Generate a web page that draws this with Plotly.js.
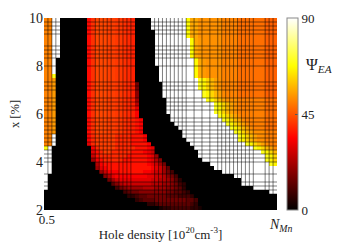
<!DOCTYPE html>
<html><head><meta charset="utf-8"><script src="https://cdn.plot.ly/plotly-3.0.1.min.js"></script>
<style>html,body{margin:0;padding:0;background:#fff}</style></head>
<body><div id="chart" style="width:338px;height:242px"></div>
<script>
// letters a..z stand for 0,3,6..75; W for 90
const NCOLS = 59, NROWS = 48;
const leftStrip = [
 "rrWW","rrWW","rrWW","rrWW","rrWW","rrWW","rrWW","rrWW","rrWW","rrWW",
 "rrW","rrW","rrW","rrW","rrx","rrs","rrs","rrs","rrs","rrs","rrs","rrs","rrs","rrs","rrs","rrs","rrs","rrs","rrs",
 "rrW","rrW","rrW","xW","WW","WW","WW","WW","WW","WW","W","W","W","W","","","","",""];
const redStart = [11,11,11,11,11,11,11,11,11,11,11,11,11,11,11,11,11,11,11,11,11,11,11,11,11,11,11,11,11,
 11,11,11,12,12,12,12,13,13,14,15,16,17,18,20,21,23,26,29];
const whiteStart = [27,27,27,28,28,28,28,28,28,28,28,28,29,29,29,29,30,30,30,30,31,31,31,31,32,32,33,34,35,35,36,37,38,39,39,40,42,43,45,48,50,50,53,57,59,59,59,59];
const goldStart = [36,36,36,36,36,37,37,37,37,37,38,38,38,38,38,39,39,39,40,40,41,43,43,43,44,45,46,47,48,49,49,51,53,55,56,56,57,59,59,59,59,59,59,59,59,59,59,59];
const redTop = [35,40,43,43,43,42,42,41,41,40,39,38];
const redEdge = {16:[15],17:[15],18:[18],19:[18],20:[21],21:[24],22:[30],23:[33],24:[33],25:[36,33],26:[36,33],27:[36,33],28:[36,33]};
const redLower = {
 29:"lnooooonnnnmmml",30:"lnooooonnnnmmml",31:"knooooonnnnmmmml",32:"lnoooonnnnnmmmlk",33:"kmnoonnnnnmmmlkj",
 34:"jmnnnnnnnmmmmmlkh",35:"hlmnnnnnmmmmmmlkig",36:"ilmmmmmmmmmmmlkjhf",37:"hklmmmmmmmmmmmlkjhe",38:"hjlllmmmmmmllkjjhfd",
 39:"gikllllllllkkjjigfd",40:"fhjkkkkkkkkjjiihgec",41:"egijjjjjjjiiihhgfdc",42:"dfghhhhiiihhhggfec",43:"deffgggggggffeedc",
 44:"ccdeefffffeeedddc",45:"cdeeeffffffffeed",46:"ccdeeeeeeeedc",47:"bccdddddccb"};
// gold region, columns 36..58, upper rows
const goldByCol = [56,56,56,53,53,53,53,53,53,51,51,51,51,48.5,48.5,48.5,48.5,48.5,48.5,48.5,46.5,46.5,46.5];
const goldRowLift = [0,0,0,0,0,0,0,0,0,0,0,0,0,0,0,0,0,0,0,0,2,2,2,2,2,2,2,2,4,4,4,4,4,4,4,4,4,4,4,4,4,4,4,4,4,4,4,4];
const goldEdgeTop = [67,56,54], goldEdgeLow = [70,66,62,58,55,52];
const gridCols = [1,2,3,13,14,15,16,17,19,20,21,22,28,29,30,31,32,33,34,35,36,38,40,42,44,45,46,47,48,49,50,51,52,53,56,57,58];
const gridRows = [1,2,3,4,7,8,9,10,12,16,17,18,20,21,22,23,25,26,27,28,29,30,31,32,33,34,35,36,39,41,42,43,44];
const zTicks = [0,45,90];
const yTicks = [2,4,6,8,10];

const val = ch => ch === "W" ? 90 : (ch.charCodeAt(0)-97)*3;
const z = [], yc = [], xc = [];
for (let c=0;c<NCOLS;c++) xc.push(c+0.5);
for (let r=0;r<NROWS;r++){
  const row = new Array(NCOLS).fill(0);
  [...leftStrip[r]].forEach((ch,i)=>row[i]=val(ch));
  if (redLower[r]) [...redLower[r]].forEach((ch,i)=>row[redStart[r]+i]=val(ch));
  else {
    redTop.forEach((v,i)=>row[11+i]=v);
    (redEdge[r]||[]).forEach((v,i)=>row[23+i]=v);
  }
  for (let c=whiteStart[r];c<goldStart[r];c++) row[c]=90;
  const edge = r<15 ? goldEdgeTop : goldEdgeLow;
  for (let c=goldStart[r];c<NCOLS;c++){
    const off=c-goldStart[r];
    const base=goldByCol[c-36]+goldRowLift[r];
    row[c]= off<edge.length ? Math.max(edge[off],base) : base;
  }
  z.push(row);
  yc.push(10-(r+0.5)*8/NROWS);
}
const gx=[],gy=[];
gridCols.forEach(c=>{gx.push(c,c,null);gy.push(2,10,null);});
gridRows.forEach(r=>{const y=10-r*8/NROWS;gx.push(0,NCOLS,null);gy.push(y,y,null);});

const serif='"Liberation Serif", serif';
const ink='#222';
const traces=[{type:'heatmap',x:xc,y:yc,z:z,zmin:0,zmax:90,hoverinfo:'skip',
  colorscale:[[0,'rgb(0,0,0)'],[0.375,'rgb(255,0,0)'],[0.75,'rgb(255,255,0)'],[1,'rgb(255,255,255)']],
  colorbar:{thickness:11,len:1,lenmode:'fraction',x:1.042,xanchor:'left',xpad:0,y:0.5,yanchor:'middle',ypad:0,
    outlinecolor:'#888',outlinewidth:1,tickmode:'array',tickvals:zTicks,ticktext:zTicks.map(String),
    ticks:'inside',ticklen:3,tickcolor:'#555',tickfont:{family:serif,size:13,color:ink}}},
 {type:'scatter',mode:'lines',x:gx,y:gy,hoverinfo:'skip',showlegend:false,connectgaps:false,
  line:{color:'rgba(0,0,0,0.5)',width:1}}];
const layout={width:338,height:242,margin:{l:44,r:60.5,t:18,b:31.5},paper_bgcolor:'#fff',plot_bgcolor:'#fff',
 font:{family:serif,size:12,color:ink},showlegend:false,
 xaxis:{range:[0,NCOLS],showgrid:false,zeroline:false,ticks:'',tickmode:'array',tickvals:[0.75],ticktext:['0.5'],
   tickfont:{family:serif,size:13,color:ink},automargin:false,
   title:{text:'Hole density [10<sup>20</sup>cm<sup>-3</sup>]',font:{family:serif,size:13,color:ink},standoff:3}},
 yaxis:{range:[2,10],showgrid:false,zeroline:false,ticks:'',tickmode:'array',tickvals:yTicks,ticktext:yTicks.map(String),
   tickfont:{family:serif,size:14,color:ink},automargin:false,
   title:{text:'x [%]',font:{family:serif,size:12.5,color:ink},standoff:6}},
 annotations:[
  {xref:'paper',yref:'paper',x:1.017,y:-0.08,xanchor:'center',yanchor:'middle',showarrow:false,
   text:'<i>N</i><sub><i>Mn</i></sub>',font:{family:serif,size:14,color:ink}},
  {xref:'paper',yref:'paper',x:1.18,y:0.755,xanchor:'center',yanchor:'middle',showarrow:false,
   text:'Ψ<sub><i>EA</i></sub>',font:{family:serif,size:16,color:ink}}]};
Plotly.newPlot('chart',traces,layout,{displayModeBar:false,staticPlot:true});
</script></body></html>
